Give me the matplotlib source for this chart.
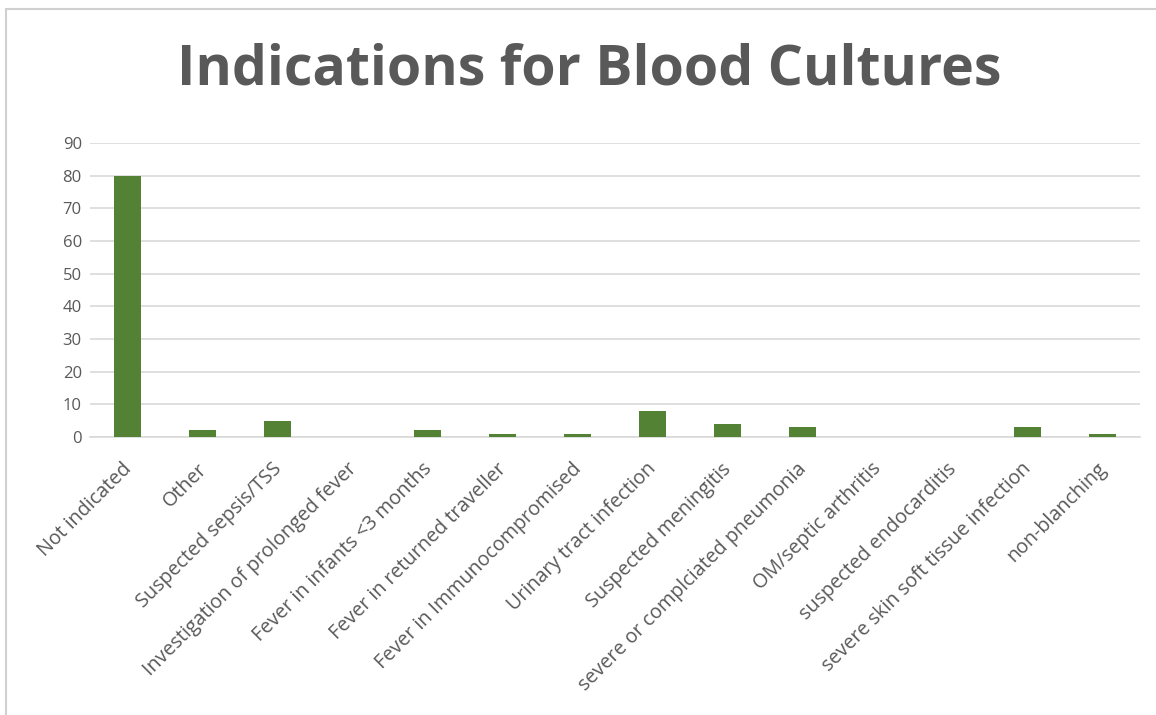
import matplotlib.pyplot as plt
import matplotlib.transforms as mtransforms
from matplotlib.patches import Rectangle

# Datos del gráfico
categorias = [
    "Not indicated",
    "Other",
    "Suspected sepsis/TSS",
    "Investigation of prolonged fever",
    "Fever in infants <3 months",
    "Fever in returned traveller",
    "Fever in Immunocompromised",
    "Urinary tract infection",
    "Suspected meningitis",
    "severe or complciated pneumonia",
    "OM/septic arthritis",
    "suspected endocarditis",
    "severe skin soft tissue infection",
    "non-blanching",
]
valores = [80, 2, 5, 0, 2, 1, 1, 8, 4, 3, 0, 0, 3, 1]
ticks_y = [0, 10, 20, 30, 40, 50, 60, 70, 80, 90]

gris = "#595959"
verde = "#548235"

plt.rcParams['font.family'] = ['Open Sans', 'DejaVu Sans']

fig = plt.figure(figsize=(11.56, 7.15), dpi=100)
ax = fig.add_axes([0.078, 0.389, 0.908, 0.411])

x = range(len(categorias))
ax.bar(x, valores, width=0.36, color=verde, zorder=3)

ax.set_xlim(-0.5, len(categorias) - 0.5)
ax.set_ylim(0, 90)
ax.set_yticks(ticks_y)
ax.set_yticklabels([str(v) for v in ticks_y], fontsize=12, color=gris)
ax.set_xticks(list(x))
ax.set_xticklabels(categorias, rotation=45, ha='right', rotation_mode='anchor',
                   fontsize=14.2, color=gris)
ax.tick_params(axis='both', length=0, pad=6)
ax.tick_params(axis='x', pad=16)

# Desplaza las etiquetas del eje x un poco a la izquierda
desplazamiento = mtransforms.ScaledTranslation(-6 / 100, 0, fig.dpi_scale_trans)
for etiqueta in ax.get_xticklabels():
    etiqueta.set_transform(etiqueta.get_transform() + desplazamiento)

ax.grid(axis='y', color='#d9d9d9', linewidth=1.2, zorder=0)
for lado in ['top', 'right', 'left']:
    ax.spines[lado].set_visible(False)
ax.spines['bottom'].set_color('#d9d9d9')
ax.spines['bottom'].set_linewidth(1.2)

fig.text(0.51, 0.902, "Indications for Blood Cultures", ha='center', va='center',
         fontsize=40, fontweight='bold', color=gris)

# Marco del gráfico
fig.patches.append(Rectangle((0.005, -0.01), 1.1, 0.997, transform=fig.transFigure,
                             fill=False, edgecolor='#d0d0d0', linewidth=1.5))

plt.savefig('out.png', dpi=100)
